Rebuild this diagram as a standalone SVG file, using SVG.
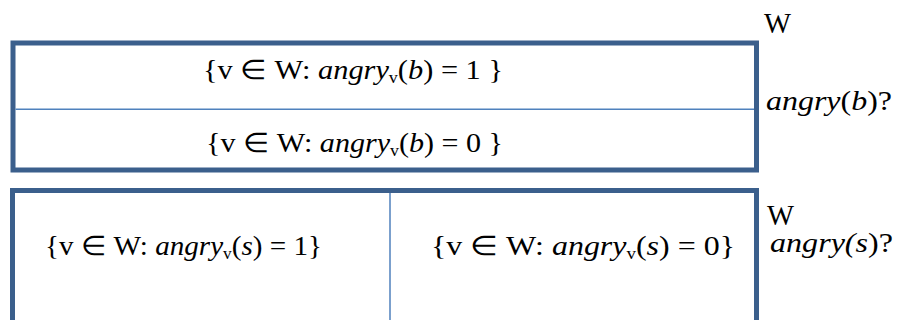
<svg xmlns="http://www.w3.org/2000/svg" width="900" height="320" viewBox="0 0 900 320">
<style>
.box{fill:none;stroke:#3B5F8C;stroke-width:5}
.div{fill:none;stroke:#4F81BD;stroke-width:1.5}
text{font-family:"Liberation Serif","Times New Roman",serif;font-size:27px;fill:#000}
.i{font-style:italic}
.sub{font-size:16px}
.w{font-size:30px}
</style>
<rect width="900" height="320" fill="#fff"/>
<g id="top-box">
<rect class="box" x="13" y="43" width="743.5" height="127"/>
<text x="203" y="79" textLength="300" lengthAdjust="spacingAndGlyphs">{v ∈ W: <tspan class="i">angry</tspan><tspan class="sub" dy="4">v</tspan><tspan dy="-4">(</tspan><tspan class="i">b</tspan>) = 1  }</text>
<text x="206" y="152" textLength="297" lengthAdjust="spacingAndGlyphs">{v ∈ W: <tspan class="i">angry</tspan><tspan class="sub" dy="4">v</tspan><tspan dy="-4">(</tspan><tspan class="i">b</tspan>) = 0  }</text>
</g>
<g id="bottom-box">
<rect class="box" x="12.5" y="190.5" width="744" height="140"/>
<text x="45" y="255" textLength="277" lengthAdjust="spacingAndGlyphs">{v ∈ W: <tspan class="i">angry</tspan><tspan class="sub" dy="4">v</tspan><tspan dy="-4">(</tspan><tspan class="i">s</tspan>) = 1}</text>
<text x="431" y="255" textLength="304" lengthAdjust="spacingAndGlyphs">{v ∈ W: <tspan class="i">angry</tspan><tspan class="sub" dy="4">v</tspan><tspan dy="-4">(</tspan><tspan class="i">s</tspan>) = 0}</text>
</g>
<g id="labels">
<text class="w" x="764" y="33" textLength="27" lengthAdjust="spacingAndGlyphs">W</text>
<text x="766" y="110" textLength="126" lengthAdjust="spacingAndGlyphs"><tspan class="i">angry</tspan>(<tspan class="i">b</tspan>)?</text>
<text class="w" x="767" y="225" textLength="27" lengthAdjust="spacingAndGlyphs">W</text>
<text x="770" y="252" textLength="123" lengthAdjust="spacingAndGlyphs"><tspan class="i">angry(s</tspan>)?</text>
</g>
<g id="connectors">
<line class="div" x1="15.5" y1="109.3" x2="754" y2="109.3"/>
<line class="div" x1="390" y1="193" x2="390" y2="320"/>
</g>
</svg>
